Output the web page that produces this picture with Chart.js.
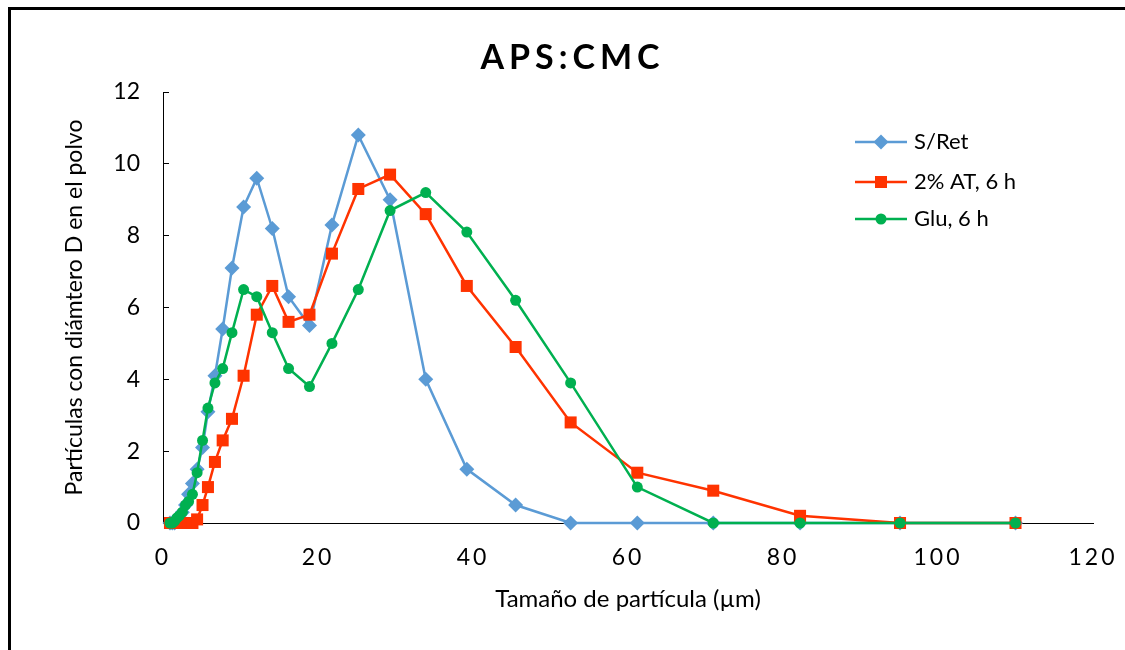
<!DOCTYPE html>
<html>
<head>
<meta charset="utf-8">
<script src="https://cdn.jsdelivr.net/npm/chart.js@4.4.0/dist/chart.umd.min.js"></script>
<style>
  html, body { margin: 0; padding: 0; background: #fff; }
  #wrap { position: relative; width: 1125px; height: 650px; overflow: hidden; }
  #frame { position: absolute; left: 8px; top: 7px; width: 1200px; height: 700px;
           border-left: 3px solid #000; border-top: 3px solid #000; }
  canvas { position: absolute; left: 0; top: 0; }
</style>
</head>
<body>
<div id="wrap">
  <div id="frame"></div>
  <canvas id="chart" width="1125" height="650"></canvas>
</div>
<script>
// particle size (µm)
const sizes = [0.9, 1.2, 1.5, 1.8, 2.1, 2.5, 2.9, 3.3, 3.8, 4.4, 5.1, 5.8, 6.7, 7.7, 8.9, 10.4,
  12.1, 14.1, 16.2, 18.9, 21.8, 25.2, 29.3, 33.9, 39.2, 45.5, 52.6, 61.2, 71.0, 82.2, 95.1, 110.0];

const sRet = [0, 0, 0, 0.1, 0.2, 0.3, 0.5, 0.8, 1.1, 1.5, 2.1, 3.1, 4.1, 5.4, 7.1, 8.8,
  9.6, 8.2, 6.3, 5.5, 8.3, 10.8, 9.0, 4.0, 1.5, 0.5, 0, 0, 0, 0, 0, 0];

const at6h = [0, 0, 0, 0, 0, 0, 0, 0, 0, 0.1, 0.5, 1.0, 1.7, 2.3, 2.9, 4.1,
  5.8, 6.6, 5.6, 5.8, 7.5, 9.3, 9.7, 8.6, 6.6, 4.9, 2.8, 1.4, 0.9, 0.2, 0, 0];

const glu6h = [0, 0, 0.05, 0.14, 0.2, 0.3, 0.5, 0.6, 0.8, 1.4, 2.3, 3.2, 3.9, 4.3, 5.3, 6.5,
  6.3, 5.3, 4.3, 3.8, 5.0, 6.5, 8.7, 9.2, 8.1, 6.2, 3.9, 1.0, 0, 0, 0, 0];

const seriesNames = ["S/Ret", "2% AT, 6 h", "Glu, 6 h"];

const FONT = "Lato, 'Open Sans', sans-serif";

function pts(values) {
  return sizes.map((x, i) => ({ x: x, y: values[i] }));
}

// legend drawn inside the plot, right-top
const insideLegend = {
  id: "insideLegend",
  afterDraw(chart) {
    const ctx = chart.ctx;
    const area = chart.chartArea;
    const x0 = area.right - 238;
    const rows = [area.top + 50, area.top + 90, area.top + 127];
    chart.data.datasets.forEach((ds, i) => {
      const y = rows[i];
      ctx.save();
      ctx.strokeStyle = ds.borderColor;
      ctx.lineWidth = ds.borderWidth;
      ctx.beginPath();
      ctx.moveTo(x0, y);
      ctx.lineTo(x0 + 52, y);
      ctx.stroke();
      ctx.fillStyle = ds.pointBackgroundColor;
      Chart.helpers.drawPoint(ctx, { pointStyle: ds.pointStyle, radius: ds.pointRadius, rotation: 0, borderWidth: 0 }, x0 + 26, y);
      ctx.fillStyle = "#000";
      ctx.font = "22px " + FONT;
      ctx.textBaseline = "middle";
      ctx.textAlign = "left";
      ctx.fillText(ds.label, x0 + 59, y);
      ctx.restore();
    });
  },
  beforeDraw(chart) {
    // spaced lettering like the original title and x tick labels
    const t = chart.titleBlock;
    if (t && !t._spaced) {
      const orig = t.draw;
      t.draw = function (a) {
        const c = this.ctx; const prev = c.letterSpacing;
        c.letterSpacing = "5px"; orig.call(this, a); c.letterSpacing = prev;
      };
      t._spaced = true;
    }
    const s = chart.scales.x;
    if (s && !s._spaced) {
      const origL = s.drawLabels;
      s.drawLabels = function (a) {
        const c = this.ctx; const prev = c.letterSpacing;
        c.letterSpacing = "3px"; origL.call(this, a); c.letterSpacing = prev;
      };
      s._spaced = true;
    }
  }
};

new Chart(document.getElementById("chart"), {
  type: "line",
  data: {
    datasets: [
      {
        label: seriesNames[0],
        data: pts(sRet),
        borderColor: "#5B9BD5",
        backgroundColor: "#5B9BD5",
        pointBackgroundColor: "#5B9BD5",
        pointStyle: "rectRot",
        pointRadius: 7.5,
        order: 2
      },
      {
        label: seriesNames[1],
        data: pts(at6h),
        borderColor: "#FF3300",
        backgroundColor: "#FF3300",
        pointBackgroundColor: "#FF3300",
        pointStyle: "rect",
        pointRadius: 8.5,
        order: 1
      },
      {
        label: seriesNames[2],
        data: pts(glu6h),
        borderColor: "#00B050",
        backgroundColor: "#00B050",
        pointBackgroundColor: "#00B050",
        pointStyle: "circle",
        pointRadius: 5.5,
        order: 0
      }
    ].map(d => Object.assign(d, { borderWidth: 2.5, pointBorderWidth: 0, pointHoverRadius: d.pointRadius, fill: false, tension: 0, clip: false }))
  },
  options: {
    responsive: false,
    animation: false,
    devicePixelRatio: 1,
    layout: { padding: { left: 52, right: 32, top: 20, bottom: 27 } },
    plugins: {
      legend: { display: false },
      tooltip: { enabled: false },
      title: {
        display: true,
        text: "APS:CMC",
        color: "#000",
        font: { family: FONT, size: 34, weight: "bold" },
        padding: { top: 18, bottom: 13.2 }
      }
    },
    scales: {
      x: {
        type: "linear",
        min: 0,
        max: 120,
        ticks: { stepSize: 20, color: "#000", font: { family: FONT, size: 23 }, padding: 2, maxRotation: 0 },
        grid: { display: false, drawTicks: true, tickLength: 19 },
        border: { display: true, color: "#000", width: 1 },
        title: { display: true, text: "Tamaño de partícula (µm)", color: "#000", font: { family: FONT, size: 24 }, padding: { top: 9, bottom: 9 } },
        afterFit(scale) { scale.height = 100; }
      },
      y: {
        min: 0,
        max: 12,
        ticks: { stepSize: 2, color: "#000", font: { family: FONT, size: 23 }, padding: 29 },
        grid: { drawOnChartArea: false, drawTicks: true, tickLength: -6, color: "#000", lineWidth: 1 },
        border: { display: true, color: "#000", width: 1 },
        title: { display: true, text: "Partículas con diámtero D en el polvo", color: "#000", font: { family: FONT, size: 23 }, padding: { top: 9, bottom: 4 } },
        afterFit(scale) { scale.width = 111; }
      }
    }
  },
  plugins: [insideLegend]
});
</script>
</body>
</html>
